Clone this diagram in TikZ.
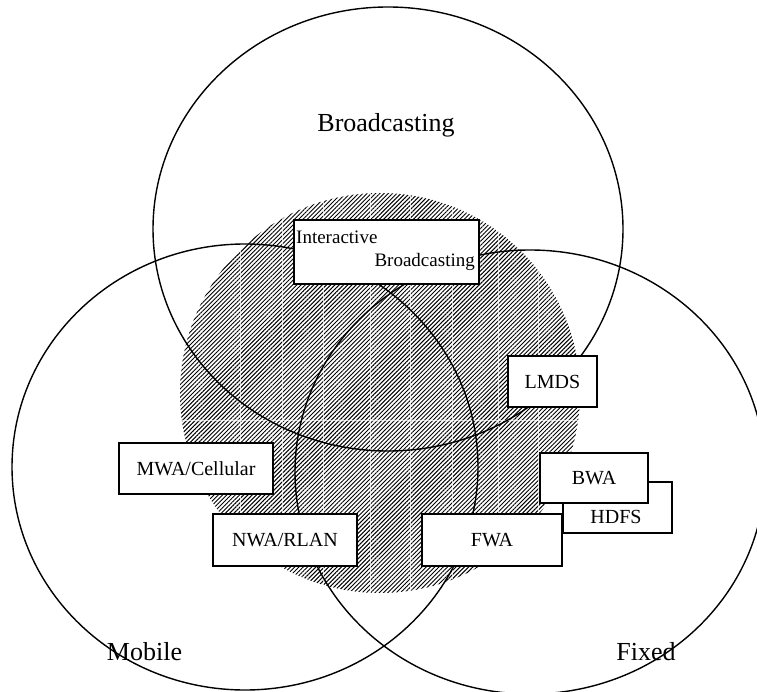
\documentclass[tikz,border=0pt]{standalone}
\usepackage{fontspec}
\setmainfont{Liberation Serif}
\usetikzlibrary{patterns.meta}
\begin{document}
\begin{tikzpicture}[x=1pt,y=-1pt,
  ring/.style={draw=black,line width=1.4pt},
  seam/.style={draw=white,line width=0.6pt,opacity=0.75},
  box/.style={draw=black,fill=white,line width=1.3pt,inner sep=0pt,font=\fontsize{20}{24}\selectfont},
  bigtitle/.style={font=\fontsize{26}{30}\selectfont,inner sep=0pt},
  smalltext/.style={font=\fontsize{19}{22}\selectfont,inner sep=0pt}]
\useasboundingbox (0,0) rectangle (757,692);
\clip (0,0) rectangle (757,692);
% hatched core
\fill[pattern={Lines[angle=45,distance=3pt,line width=0.95pt]}] (380,393) circle [radius=200pt];
\begin{scope}
  \clip (380,393) circle [radius=200pt];
  \foreach \x in {240,282,323,370,410,452,498,538} \draw[seam] (\x,180) -- (\x,610);
  \draw[seam] (170,420) -- (590,420);
\end{scope}
% the three circles
\draw[ring] (388,229) ellipse [x radius=235pt, y radius=222pt];
\draw[ring] (245,467) ellipse [x radius=233pt, y radius=223pt];
\draw[ring] (530,472) ellipse [x radius=235pt, y radius=222pt];
% titles
\node[bigtitle] (tb) at (386,125) {Broadcasting};
\node[bigtitle] (tm) at (144.5,652) {Mobile};
\node[bigtitle] (tf) at (646,652) {Fixed};
% boxes
\node[box, minimum width=185pt, minimum height=64pt] (ib) at (386.5,252) {};
\node[smalltext, anchor=west] (ib1) at (296,237) {Interactive};
\node[smalltext, anchor=east] (ib2) at (475,262) {Broadcasting};
\node[box, minimum width=89pt, minimum height=51pt] (lmds) at (552.5,381.5) {LMDS};
\node[box, minimum width=154pt, minimum height=51pt] (mwa) at (196,468.5) {MWA/Cellular};
\node[box, minimum width=144pt, minimum height=52pt] (nwa) at (285,540) {NWA/RLAN};
\node[box, minimum width=140pt, minimum height=52pt] (fwa) at (492,540) {FWA};
\node[box, minimum width=109pt, minimum height=51pt] (hdfs) at (617.5,507.5) {};
\node[box, draw=none, fill=none] (hdfst) at (616,517) {HDFS};
\node[box, minimum width=108pt, minimum height=50pt] (bwa) at (594,478) {BWA};
\end{tikzpicture}
\end{document}
